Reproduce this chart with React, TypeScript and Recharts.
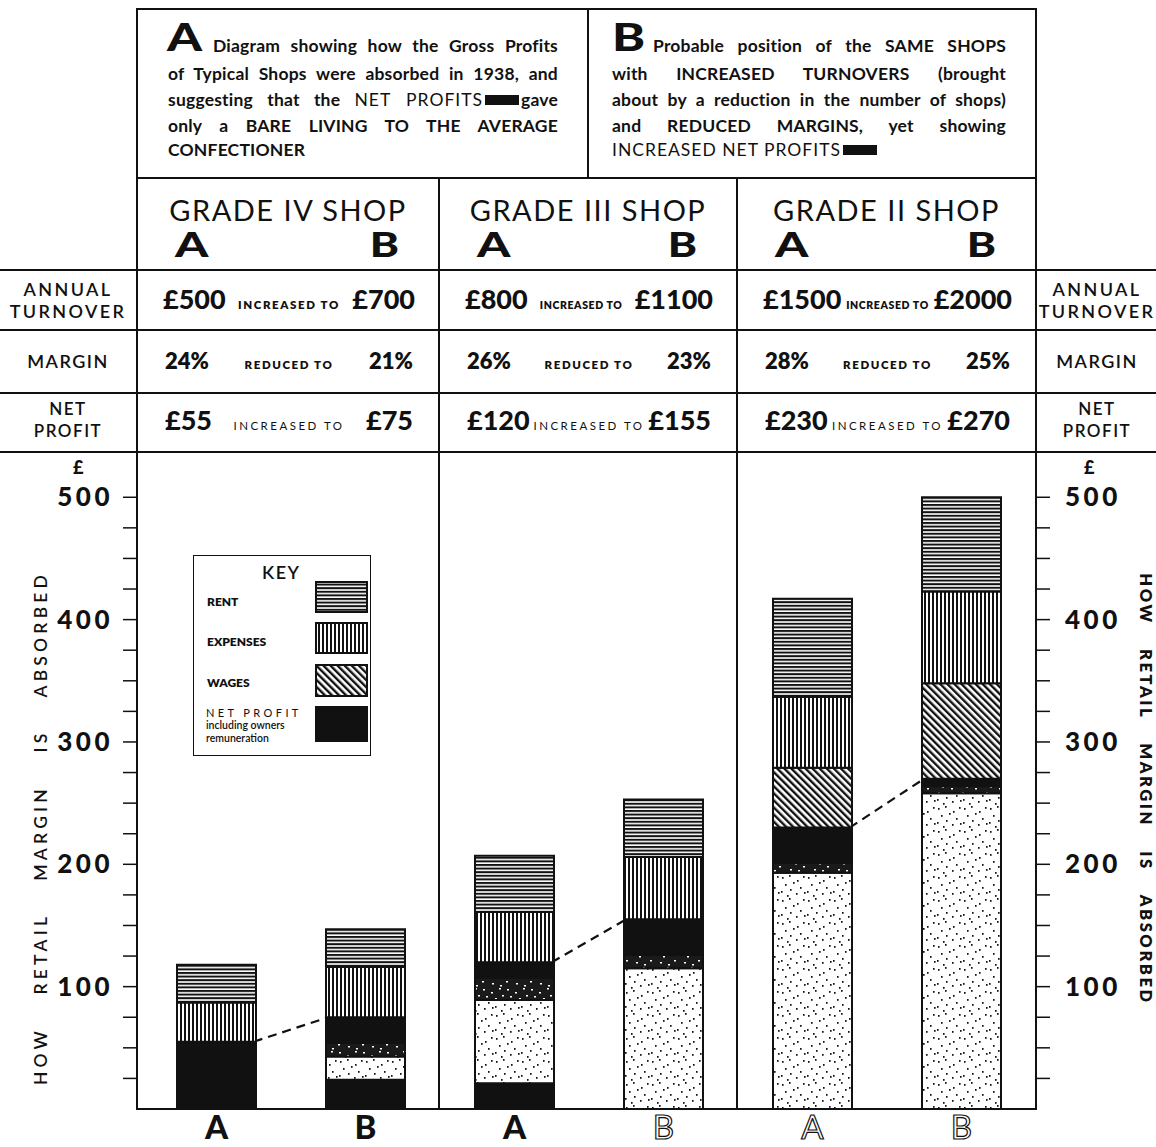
import React from "react";
import { ComposedChart, Bar, Line, XAxis, YAxis } from "recharts";

// bars, left to right
const categories = ["IV A", "IV B", "III A", "III B", "II A", "II B"];
const barLetters = ["A", "B", "A", "B", "A", "B"];

// table rows, one entry per grade
const grades = ["IV", "III", "II"];
const turnoverA = ["£500", "£800", "£1500"];
const turnoverB = ["£700", "£1100", "£2000"];
const marginA = ["24%", "26%", "28%"];
const marginB = ["21%", "23%", "25%"];
const profitA = ["£55", "£120", "£230"];
const profitB = ["£75", "£155", "£270"];

// £ per bar, stacked from the bottom up
const profitBase = [55, 24, 21, 0, 0, 0];
const stippleLight = [0, 19, 68, 115, 193, 258];
const stippleDense = [0, 11, 18, 11, 8, 6];
const profitTop = [0, 21, 13, 29, 29, 6];
const wages = [0, 0, 0, 0, 49, 78];
const expenses = [32, 41, 41, 51, 58, 75];
const rent = [31, 31, 46, 47, 80, 77];
const netProfit = [55, 75, 120, 155, 230, 270];

const yTicks = [25, 50, 75, 100, 125, 150, 175, 200, 225, 250, 275, 300, 325, 350, 375, 400, 425, 450, 475, 500];

const data = categories.map((cat, i) => ({
  cat,
  profitBase: profitBase[i],
  stippleLight: stippleLight[i],
  stippleDense: stippleDense[i],
  profitTop: profitTop[i],
  wages: wages[i],
  expenses: expenses[i],
  rent: rent[i],
}));

// the dashed link runs from the right side of each A bar to the left side of its B bar
const edgeData = categories.flatMap((cat, i) => {
  const isA = i % 2 === 0;
  return [
    { edge: cat + " left", np: isA ? null : netProfit[i] },
    { edge: cat + " right", np: isA ? netProfit[i] : null },
  ];
});

const INK = "#111";
const FONT = "Lato, 'Open Sans', sans-serif";

const lightDots = [
  [2, 3], [9, 1], [17, 6], [23, 2], [5, 10], [13, 8], [20, 13],
  [1, 17], [10, 15], [16, 19], [24, 18], [7, 21],
];
const denseDots = [
  [3, 2], [11, 5], [19, 1], [6, 9], [15, 11], [22, 8], [2, 15], [12, 17], [20, 19],
];

function Patterns({ p }: { p: string }) {
  return (
    <defs>
      <pattern id={p + "rent"} width="4" height="3.6" patternUnits="userSpaceOnUse">
        <rect width="4" height="3.6" fill="#fff" />
        <rect width="4" height="2" fill={INK} />
      </pattern>
      <pattern id={p + "exp"} width="4" height="4" patternUnits="userSpaceOnUse">
        <rect width="4" height="4" fill="#fff" />
        <rect width="2" height="4" fill={INK} />
      </pattern>
      <pattern id={p + "wages"} width="5" height="5" patternUnits="userSpaceOnUse" patternTransform="rotate(-45)">
        <rect width="5" height="5" fill="#fff" />
        <rect width="2.4" height="5" fill={INK} />
      </pattern>
      <pattern id={p + "stip"} width="26" height="23" patternUnits="userSpaceOnUse">
        <rect width="26" height="23" fill="#fff" />
        {lightDots.map(([x, y], k) => (
          <rect key={k} x={x} y={y} width="1.6" height="1.8" fill={INK} />
        ))}
      </pattern>
      <pattern id={p + "dense"} width="24" height="21" patternUnits="userSpaceOnUse">
        <rect width="24" height="21" fill="#1a1a1a" />
        {denseDots.map(([x, y], k) => (
          <rect key={k} x={x} y={y} width="2" height="1.5" fill="#fff" />
        ))}
      </pattern>
    </defs>
  );
}

const YTick = (props: any) => {
  const { x, y, payload, textAnchor } = props;
  if (payload.value % 100 !== 0) return null;
  return (
    <text x={x} y={y} dy={9} textAnchor={textAnchor} fontFamily={FONT} fontWeight={900} fontSize={26} letterSpacing={3.5} fill={INK}>
      {payload.value}
    </text>
  );
};

const XTick = (props: any) => {
  const { x, y, index } = props;
  const faint = index >= 3;
  return (
    <text
      x={x}
      y={y}
      dy={30}
      textAnchor="middle"
      fontFamily={FONT}
      fontWeight={faint ? 400 : 900}
      fontSize={33}
      fill={faint ? "#fff" : INK}
      stroke={faint ? INK : "none"}
      strokeWidth={faint ? 1.2 : 0}
    >
      {barLetters[index]}
    </text>
  );
};

const rule = (x: number, y: number, w: number, h: number, key: string) => (
  <div key={key} style={{ position: "absolute", left: x, top: y, width: w, height: h, background: INK }} />
);

const colX = [137, 439, 737];
const colW = [302, 298, 299];

const Justified = ({ top, left, width, last, children }: any) => (
  <div
    style={{
      position: "absolute",
      top,
      left,
      width,
      fontSize: 17.5,
      fontWeight: 700,
      letterSpacing: 0.2,
      lineHeight: "20px",
      textAlign: "justify",
      textAlignLast: last ? "left" : "justify",
      whiteSpace: "nowrap",
    }}
  >
    {children}
  </div>
);

const thin: React.CSSProperties = { fontWeight: 400, letterSpacing: 1 };
const blob = (
  <span style={{ display: "inline-block", width: 34, height: 10, background: INK, margin: "0 2px", verticalAlign: "1px" }} />
);

const Small = ({ children, light, tight }: any) => (
  <span
    style={{
      fontSize: tight ? 10.5 : 11.5,
      fontWeight: light ? 400 : 800,
      letterSpacing: light ? 2.5 : tight ? 0.6 : 1.6,
      whiteSpace: "nowrap",
    }}
  >
    {children}
  </span>
);

const bigLetter = (ch: string, left: number, top: number) => (
  <div
    style={{
      position: "absolute",
      left,
      top,
      fontSize: 37,
      fontWeight: 900,
      lineHeight: "38px",
      transform: "scaleX(1.35)",
      transformOrigin: "left",
    }}
  >
    {ch}
  </div>
);

const rowStyle = (i: number, top: number, inset: number): React.CSSProperties => ({
  position: "absolute",
  left: colX[i] + inset,
  width: colW[i] - 2 * inset + 2,
  top,
  display: "flex",
  justifyContent: "space-between",
  alignItems: "baseline",
  lineHeight: "28px",
  whiteSpace: "nowrap",
});

const segs = [
  { key: "profitBase", fill: INK },
  { key: "stippleLight", fill: "url(#c-stip)" },
  { key: "stippleDense", fill: "url(#c-dense)" },
  { key: "profitTop", fill: INK },
  { key: "wages", fill: "url(#c-wages)" },
  { key: "expenses", fill: "url(#c-exp)" },
  { key: "rent", fill: "url(#c-rent)" },
];

export default function App() {
  return (
    <div style={{ position: "absolute", left: 0, top: 0, width: 1156, height: 1147, fontFamily: FONT, color: INK, background: "#fff" }}>
      <svg width="0" height="0" style={{ position: "absolute" }}>
        <Patterns p="c-" />
      </svg>

      <ComposedChart
        width={1156}
        height={1147}
        data={data}
        margin={{ top: 452, right: 50, bottom: 8, left: 67 }}
        barCategoryGap={0}
      >
        <XAxis
          dataKey="cat"
          tickLine={false}
          tickSize={0}
          tickMargin={0}
          height={30}
          axisLine={{ stroke: INK, strokeWidth: 2 }}
          padding={{ left: 5, right: 0 }}
          tick={<XTick />}
          interval={0}
        />
        <XAxis xAxisId="edge" dataKey="edge" hide padding={{ left: 5, right: 0 }} allowDuplicatedCategory={false} />
        <YAxis
          yAxisId="left"
          orientation="left"
          type="number"
          domain={[0, 537]}
          ticks={yTicks}
          width={70}
          tickSize={14}
          tickMargin={10}
          axisLine={{ stroke: INK, strokeWidth: 2 }}
          tickLine={{ stroke: INK, strokeWidth: 1.5 }}
          tick={<YTick />}
          interval={0}
        />
        <YAxis
          yAxisId="right"
          orientation="right"
          type="number"
          domain={[0, 537]}
          ticks={yTicks}
          width={70}
          tickSize={14}
          tickMargin={15}
          axisLine={{ stroke: INK, strokeWidth: 2 }}
          tickLine={{ stroke: INK, strokeWidth: 1.5 }}
          tick={<YTick />}
          interval={0}
        />
        <Line
          data={edgeData}
          xAxisId="edge"
          yAxisId="right"
          dataKey="np"
          stroke={INK}
          strokeWidth={2.2}
          strokeDasharray="9 6"
          dot={false}
          connectNulls={false}
          isAnimationActive={false}
          zIndex={100}
        />
        {segs.map((s) => (
          <Bar
            key={s.key}
            yAxisId="left"
            dataKey={s.key}
            stackId="s"
            barSize={79}
            fill={s.fill}
            stroke={INK}
            strokeWidth={2}
            isAnimationActive={false}
          />
        ))}
      </ComposedChart>

      {/* table rules */}
      {rule(136, 8, 901, 2, "top")}
      {rule(136, 8, 2, 1102, "lv")}
      {rule(1035, 8, 2, 1102, "rv")}
      {rule(587, 8, 2, 170, "boxdiv")}
      {rule(136, 177, 901, 2, "boxbot")}
      {rule(438, 177, 2, 933, "d1")}
      {rule(736, 177, 2, 933, "d2")}
      {[269, 329, 392, 451].map((y) => rule(0, y, 1156, 2, "h" + y))}

      {/* box A */}
      {bigLetter("A", 167, 18)}
      <Justified top={36} left={213} width={345}>Diagram showing how the Gross Profits</Justified>
      <Justified top={64} left={168} width={390}>of Typical Shops were absorbed in 1938, and</Justified>
      <Justified top={90} left={168} width={390}>
        suggesting that the <span style={thin}>NET PROFITS</span>
        {blob}gave
      </Justified>
      <Justified top={116} left={168} width={390}>only a BARE LIVING TO THE AVERAGE</Justified>
      <Justified top={140} left={168} width={390} last>CONFECTIONER</Justified>

      {/* box B */}
      {bigLetter("B", 612, 18)}
      <Justified top={36} left={653} width={353}>Probable position of the SAME SHOPS</Justified>
      <Justified top={64} left={612} width={394}>with INCREASED TURNOVERS (brought</Justified>
      <Justified top={90} left={612} width={394}>about by a reduction in the number of shops)</Justified>
      <Justified top={116} left={612} width={394}>and REDUCED MARGINS, yet showing</Justified>
      <Justified top={140} left={612} width={394} last>
        <span style={thin}>INCREASED NET PROFITS</span>
        {blob}
      </Justified>

      {/* grade columns */}
      {grades.map((g, i) => (
        <React.Fragment key={g}>
          <div style={{ position: "absolute", left: colX[i], top: 194, width: colW[i], textAlign: "center", fontSize: 29, letterSpacing: 1.5, lineHeight: "32px" }}>
            GRADE {g} SHOP
          </div>
          <div style={{ position: "absolute", left: colX[i] + 38, top: 227, fontSize: 34, fontWeight: 900, lineHeight: "34px", transform: "scaleX(1.4)", transformOrigin: "left" }}>A</div>
          <div style={{ position: "absolute", left: colX[i] + colW[i] - 80, width: 40, textAlign: "right", top: 227, fontSize: 34, fontWeight: 900, lineHeight: "34px", transform: "scaleX(1.3)", transformOrigin: "right" }}>B</div>

          <div style={rowStyle(i, 285, 26)}>
            <span style={{ fontSize: 27, fontWeight: 900 }}>{turnoverA[i]}</span>
            <Small tight={i > 0}>INCREASED TO</Small>
            <span style={{ fontSize: 27, fontWeight: 900 }}>{turnoverB[i]}</span>
          </div>
          <div style={rowStyle(i, 347, 28)}>
            <span style={{ fontSize: 22, fontWeight: 800 }}>{marginA[i]}</span>
            <Small>REDUCED TO</Small>
            <span style={{ fontSize: 22, fontWeight: 800 }}>{marginB[i]}</span>
          </div>
          <div style={rowStyle(i, 406, 28)}>
            <span style={{ fontSize: 27, fontWeight: 900 }}>{profitA[i]}</span>
            <Small light>INCREASED TO</Small>
            <span style={{ fontSize: 27, fontWeight: 900 }}>{profitB[i]}</span>
          </div>
        </React.Fragment>
      ))}

      {/* row labels */}
      {[0, 1036].map((x) => (
        <React.Fragment key={x}>
          <div style={{ position: "absolute", left: x, width: x === 0 ? 136 : 122, top: 278, textAlign: "center", fontSize: 18, fontWeight: 600, letterSpacing: 2.4, lineHeight: "22px" }}>
            ANNUAL
            <br />
            TURNOVER
          </div>
          <div style={{ position: "absolute", left: x, width: x === 0 ? 136 : 122, top: 350, textAlign: "center", fontSize: 18, fontWeight: 600, letterSpacing: 1.5, lineHeight: "22px" }}>
            MARGIN
          </div>
          <div style={{ position: "absolute", left: x, width: x === 0 ? 136 : 122, top: 398, textAlign: "center", fontSize: 17, fontWeight: 600, letterSpacing: 1.5, lineHeight: "22px" }}>
            NET
            <br />
            PROFIT
          </div>
        </React.Fragment>
      ))}

      {/* £ unit marks */}
      <div style={{ position: "absolute", left: 73, top: 458, fontSize: 18, fontWeight: 900, lineHeight: "18px" }}>£</div>
      <div style={{ position: "absolute", left: 1084, top: 458, fontSize: 18, fontWeight: 900, lineHeight: "18px" }}>£</div>

      {/* side titles */}
      <div style={{ position: "absolute", left: 40, top: 828, transform: "translate(-50%, -50%) rotate(-90deg)", whiteSpace: "nowrap", fontSize: 17.5, fontWeight: 600, letterSpacing: 4.2, wordSpacing: 24 }}>
        HOW RETAIL MARGIN IS ABSORBED
      </div>
      <div style={{ position: "absolute", left: 1146, top: 789, transform: "translate(-50%, -50%) rotate(90deg)", whiteSpace: "nowrap", fontSize: 16.5, fontWeight: 800, letterSpacing: 2.6, wordSpacing: 18 }}>
        HOW RETAIL MARGIN IS ABSORBED
      </div>

      {/* key */}
      <div style={{ position: "absolute", left: 193, top: 555, width: 176, height: 199, border: "1.5px solid " + INK, background: "#fff" }}>
        <div style={{ position: "absolute", left: 68, top: 5, fontSize: 18, fontWeight: 600, letterSpacing: 1.5 }}>KEY</div>
        <div style={{ position: "absolute", left: 13, top: 38, fontSize: 12, fontWeight: 800 }}>RENT</div>
        <div style={{ position: "absolute", left: 13, top: 78, fontSize: 12, fontWeight: 800 }}>EXPENSES</div>
        <div style={{ position: "absolute", left: 13, top: 119, fontSize: 12, fontWeight: 800 }}>WAGES</div>
        <div style={{ position: "absolute", left: 12, top: 150, fontSize: 11, fontWeight: 400, letterSpacing: 3.4, lineHeight: "13px" }}>
          NET PROFIT
          <div style={{ fontSize: 10.5, letterSpacing: 0, fontWeight: 600 }}>including owners</div>
          <div style={{ fontSize: 10.5, letterSpacing: 0, fontWeight: 600 }}>remuneration</div>
        </div>
        <svg style={{ position: "absolute", left: 120, top: 24 }} width="56" height="166">
          <Patterns p="k-" />
          <rect x="2" y="2" width="51" height="30" fill="url(#k-rent)" stroke={INK} strokeWidth="2" />
          <rect x="2" y="43" width="51" height="30" fill="url(#k-exp)" stroke={INK} strokeWidth="2" />
          <rect x="2" y="85" width="51" height="31" fill="url(#k-wages)" stroke={INK} strokeWidth="2" />
          <rect x="2" y="127" width="51" height="34" fill={INK} stroke={INK} strokeWidth="2" />
        </svg>
      </div>
    </div>
  );
}
